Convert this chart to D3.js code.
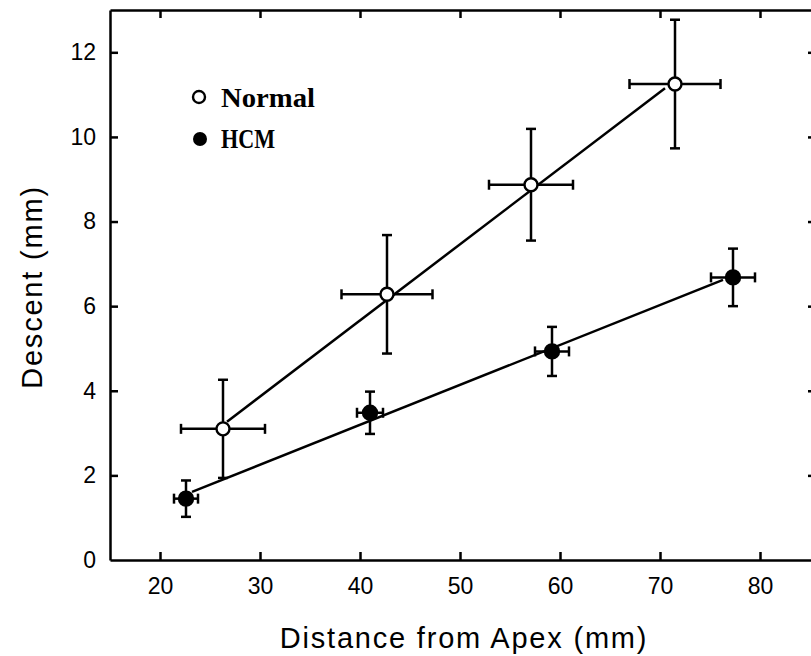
<!DOCTYPE html>
<html>
<head>
<meta charset="utf-8">
<script src="https://cdn.jsdelivr.net/npm/d3@7"></script>
<style>
body { margin: 0; background: #fff; }
svg { display: block; }
.axis path, .axis line { stroke: #000; stroke-width: 2.5; }
.axis text { font-family: "Liberation Sans", Arial, sans-serif; font-size: 23px; fill: #000; }
.title { font-family: "Liberation Sans", Arial, sans-serif; font-size: 29px; fill: #000; letter-spacing: 1.8px; }
.legend text { font-family: "Liberation Serif", "Times New Roman", serif; font-weight: bold; font-size: 27px; fill: #000; }
</style>
</head>
<body>
<svg id="chart" width="811" height="656"></svg>
<script>
// values
var xTicks = [20, 30, 40, 50, 60, 70, 80];
var yTicks = [0, 2, 4, 6, 8, 10, 12];

// Normal
var normalDist = [26.3, 42.7, 57.1, 71.5];
var normalDescent = [3.1, 6.28, 8.87, 11.25];
var normalDistErr = [4.2, 4.55, 4.2, 4.55];
var normalDescentErr = [1.16, 1.4, 1.32, 1.52];
var normalFitX = [26.7, 70.5];
var normalFitY = [3.27, 11.15];

// HCM
var hcmDist = [22.6, 41.0, 59.2, 77.3];
var hcmDescent = [1.45, 3.48, 4.93, 6.68];
var hcmDistErr = [1.2, 1.3, 1.7, 2.2];
var hcmDescentErr = [0.43, 0.5, 0.58, 0.68];
var hcmFitX = [23.2, 76.3];
var hcmFitY = [1.61, 6.62];

var svg = d3.select('#chart');

var x = d3.scaleLinear().domain([15, 85.6]).range([110, 816]);
var y = d3.scaleLinear().domain([0, 13]).range([560, 10]);

// frame + inward ticks
svg.append('g').attr('class', 'axis')
    .attr('transform', 'translate(0,560)')
    .call(d3.axisBottom(x).tickValues(xTicks).tickSize(-8).tickSizeOuter(0).tickPadding(18).tickFormat(d3.format('d')));
svg.append('g').attr('class', 'axis')
    .attr('transform', 'translate(0,10)')
    .call(d3.axisTop(x).tickValues(xTicks).tickSize(-8).tickSizeOuter(0).tickFormat(''));
svg.append('g').attr('class', 'axis')
    .attr('transform', 'translate(110,0)')
    .call(d3.axisLeft(y).tickValues(yTicks).tickSize(-8).tickSizeOuter(0).tickPadding(14).tickFormat(d3.format('d')));
svg.append('g').attr('class', 'axis')
    .attr('transform', 'translate(816,0)')
    .call(d3.axisRight(y).tickValues(yTicks).tickSize(-8).tickSizeOuter(0).tickFormat(''));

// the zero tick sits in the corner, hide it
svg.selectAll('.axis .tick').filter(function(d) { return d === 0; }).select('line').remove();

// axis titles
svg.append('text').attr('class', 'title')
    .attr('x', 464).attr('y', 648)
    .attr('text-anchor', 'middle')
    .text('Distance from Apex (mm)');
svg.append('text').attr('class', 'title')
    .attr('transform', 'translate(42,287) rotate(-90)')
    .attr('text-anchor', 'middle')
    .text('Descent (mm)');

// fit lines
function drawFit(fx, fy) {
    svg.append('line')
	.attr('x1', x(fx[0])).attr('y1', y(fy[0]))
	.attr('x2', x(fx[1])).attr('y2', y(fy[1]))
	.attr('stroke', '#000').attr('stroke-width', 2.5);
}
drawFit(normalFitX, normalFitY);
drawFit(hcmFitX, hcmFitY);

// error bars + points
function drawSeries(xs, ys, xe, ye, filled) {
    var cap = 5;
    var g = svg.append('g');
    xs.forEach(function(d, i) {
	var cx = x(d), cy = y(ys[i]);
	var x0 = x(d - xe[i]), x1 = x(d + xe[i]);
	var y0 = y(ys[i] - ye[i]), y1 = y(ys[i] + ye[i]);
	var eb = g.append('g').attr('stroke', '#000').attr('stroke-width', 2.5);
	eb.append('line').attr('x1', x0).attr('x2', x1).attr('y1', cy).attr('y2', cy);
	eb.append('line').attr('x1', cx).attr('x2', cx).attr('y1', y0).attr('y2', y1);
	eb.append('line').attr('x1', x0).attr('x2', x0).attr('y1', cy - cap).attr('y2', cy + cap);
	eb.append('line').attr('x1', x1).attr('x2', x1).attr('y1', cy - cap).attr('y2', cy + cap);
	eb.append('line').attr('x1', cx - cap).attr('x2', cx + cap).attr('y1', y0).attr('y2', y0);
	eb.append('line').attr('x1', cx - cap).attr('x2', cx + cap).attr('y1', y1).attr('y2', y1);
	g.append('circle')
	    .attr('cx', cx).attr('cy', cy)
	    .attr('r', filled ? 7 : 6.5)
	    .attr('fill', filled ? '#000' : '#fff')
	    .attr('stroke', '#000').attr('stroke-width', 2.4);
    });
}
drawSeries(normalDist, normalDescent, normalDistErr, normalDescentErr, false);
drawSeries(hcmDist, hcmDescent, hcmDistErr, hcmDescentErr, true);

// legend
var leg = svg.append('g').attr('class', 'legend');
leg.append('circle').attr('cx', 199).attr('cy', 97).attr('r', 6)
    .attr('fill', '#fff').attr('stroke', '#000').attr('stroke-width', 2.4);
leg.append('text').attr('x', 221).attr('y', 107)
    .attr('textLength', 94).attr('lengthAdjust', 'spacingAndGlyphs').text('Normal');
leg.append('circle').attr('cx', 200).attr('cy', 139).attr('r', 7).attr('fill', '#000');
leg.append('text').attr('x', 221).attr('y', 148)
    .attr('textLength', 54).attr('lengthAdjust', 'spacingAndGlyphs').text('HCM');
</script>
</body>
</html>
